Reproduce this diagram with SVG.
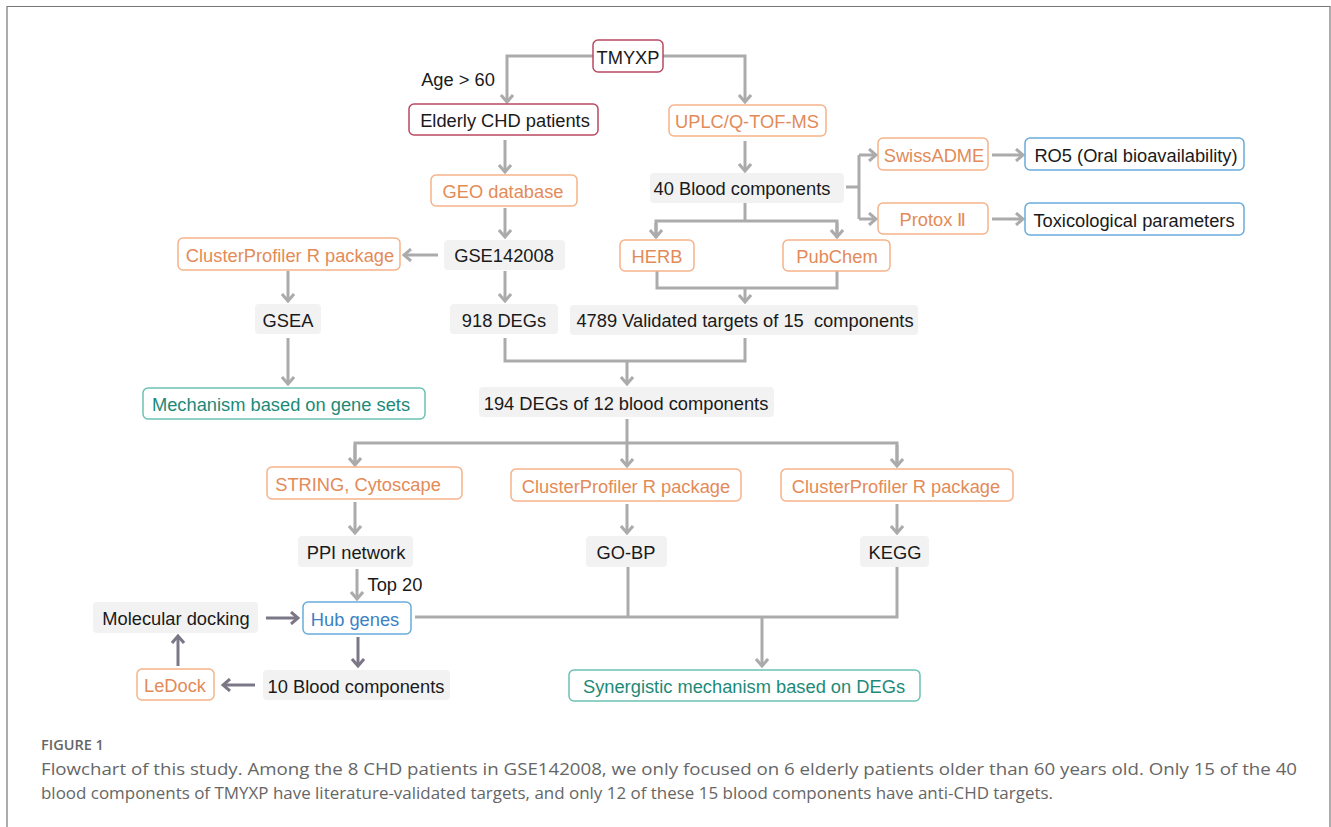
<svg xmlns="http://www.w3.org/2000/svg" width="1331" height="827" viewBox="0 0 1331 827">
<style>
.t{font-family:"Liberation Sans",Arial,sans-serif;font-size:18.3px;text-anchor:middle;dominant-baseline:central;fill:#1a1a1a}
.g{fill:#f2f2f2;stroke:none}
.o{fill:#fff;stroke:#f6b38a;stroke-width:1.5}
.ot{fill:#e38b58}
.r{fill:#fff;stroke:#b94a62;stroke-width:1.5}
.b{fill:#fff;stroke:#68acd9;stroke-width:1.5}
.bt{fill:#3b82c4}
.te{fill:#fff;stroke:#6cc2b2;stroke-width:1.5}
.tt{fill:#1d8a78}
.c{fill:none;stroke:#ababab;stroke-width:3}
.d{fill:none;stroke:#7b7787;stroke-width:3}
.cap{font-family:"Open Sans","Liberation Sans",sans-serif;fill:#666}
</style>
<defs>
<marker id="a" viewBox="0 0 10 14" refX="8" refY="7" markerWidth="10" markerHeight="14" markerUnits="userSpaceOnUse" orient="auto">
<path d="M1,1 L8,7 L1,13" fill="none" stroke="#ababab" stroke-width="3"/>
</marker>
<marker id="ad" viewBox="0 0 10 14" refX="8" refY="7" markerWidth="10" markerHeight="14" markerUnits="userSpaceOnUse" orient="auto">
<path d="M1,1 L8,7 L1,13" fill="none" stroke="#7b7787" stroke-width="3"/>
</marker>
</defs>
<rect width="1331" height="827" fill="#fff"/>
<path d="M7,827 V6.5 H1330 V827" fill="none" stroke="#777" stroke-width="1.2"/>

<g id="connectors">
<path class="c" d="M593,56 H507 V102" marker-end="url(#a)"/>
<path class="c" d="M663,56 H745 V102" marker-end="url(#a)"/>
<path class="c" d="M505,140 V172" marker-end="url(#a)"/>
<path class="c" d="M745,141 V171" marker-end="url(#a)"/>
<path class="c" d="M846,187 H859"/>
<path class="c" d="M859,155 V219"/>
<path class="c" d="M859,155 H876" marker-end="url(#a)"/>
<path class="c" d="M859,219 H876" marker-end="url(#a)"/>
<path class="c" d="M992,155 H1023" marker-end="url(#a)"/>
<path class="c" d="M992,219 H1023" marker-end="url(#a)"/>
<path class="c" d="M745,203 V221"/>
<path class="c" d="M656,238 V221 H837 V238"/>
<path class="c" d="M656,223 V237" marker-end="url(#a)"/>
<path class="c" d="M837,223 V237" marker-end="url(#a)"/>
<path class="c" d="M657,271 V288 H837 V271"/>
<path class="c" d="M745,288 V302" marker-end="url(#a)"/>
<path class="c" d="M505,208 V237" marker-end="url(#a)"/>
<path class="c" d="M438,255 H404" marker-end="url(#a)"/>
<path class="c" d="M288,271 V301" marker-end="url(#a)"/>
<path class="c" d="M288,338 V384" marker-end="url(#a)"/>
<path class="c" d="M505,271 V301" marker-end="url(#a)"/>
<path class="c" d="M505,338 V361 H745 V338"/>
<path class="c" d="M627,361 V384" marker-end="url(#a)"/>
<path class="c" d="M627,419 V443"/>
<path class="c" d="M355,465 V443 H897 V465"/>
<path class="c" d="M355,445 V465" marker-end="url(#a)"/>
<path class="c" d="M627,443 V466" marker-end="url(#a)"/>
<path class="c" d="M897,445 V466" marker-end="url(#a)"/>
<path class="c" d="M355,502 V533" marker-end="url(#a)"/>
<path class="c" d="M627,504 V533" marker-end="url(#a)"/>
<path class="c" d="M897,504 V533" marker-end="url(#a)"/>
<path class="c" d="M357,569 V599" marker-end="url(#a)"/>
<path class="c" d="M415,617 H897 V567"/>
<path class="c" d="M628,567 V617"/>
<path class="c" d="M762,617 V666" marker-end="url(#a)"/>
<path class="d" d="M266,618 H298" marker-end="url(#ad)"/>
<path class="d" d="M358,637 V666" marker-end="url(#ad)"/>
<path class="d" d="M255,685 H223" marker-end="url(#ad)"/>
<path class="d" d="M178,666 V636" marker-end="url(#ad)"/>
</g>

<g id="labels">
<text class="t" x="458" y="79">Age &gt; 60</text>
<text class="t" x="395" y="584">Top 20</text>
</g>

<g id="n-tmyxp"><rect class="r" x="593" y="40" width="70" height="32" rx="5"/><text class="t" x="628" y="57">TMYXP</text></g>
<g id="n-elderly"><rect class="r" x="409" y="104" width="189" height="31" rx="5"/><text class="t" x="505" y="120">Elderly CHD patients</text></g>
<g id="n-uplc"><rect class="o" x="669" y="105" width="157" height="31" rx="5"/><text class="t ot" x="747" y="121">UPLC/Q-TOF-MS</text></g>
<g id="n-geo"><rect class="o" x="431" y="175" width="146" height="31" rx="5"/><text class="t ot" x="503" y="191">GEO database</text></g>
<g id="n-40blood"><rect class="g" x="650" y="173" width="194" height="30" rx="4"/><text class="t" x="742" y="188">40 Blood components</text></g>
<g id="n-swissadme"><rect class="o" x="878" y="138" width="110" height="32" rx="5"/><text class="t ot" x="934" y="155">SwissADME</text></g>
<g id="n-protox"><rect class="o" x="878" y="203" width="110" height="31" rx="5"/><text class="t ot" x="933" y="219">Protox Ⅱ</text></g>
<g id="n-ro5"><rect class="b" x="1025" y="138" width="219" height="32" rx="5"/><text class="t" x="1136" y="155">RO5 (Oral bioavailability)</text></g>
<g id="n-tox"><rect class="b" x="1025" y="203" width="219" height="32" rx="5"/><text class="t" x="1134" y="220">Toxicological parameters</text></g>
<g id="n-herb"><rect class="o" x="620" y="240" width="74" height="31" rx="5"/><text class="t ot" x="657" y="256">HERB</text></g>
<g id="n-pubchem"><rect class="o" x="783" y="240" width="107" height="31" rx="5"/><text class="t ot" x="837" y="256">PubChem</text></g>
<g id="n-4789"><rect class="g" x="570" y="305" width="348" height="30" rx="4"/><text class="t" x="745" y="320" xml:space="preserve">4789 Validated targets of 15  components</text></g>
<g id="n-gse"><rect class="g" x="444" y="240" width="121" height="30" rx="4"/><text class="t" x="504" y="255">GSE142008</text></g>
<g id="n-cp1"><rect class="o" x="178" y="238" width="222" height="32" rx="5"/><text class="t ot" x="290" y="255">ClusterProfiler R package</text></g>
<g id="n-gsea"><rect class="g" x="255" y="304" width="66" height="30" rx="4"/><text class="t" x="288" y="320">GSEA</text></g>
<g id="n-mech"><rect class="te" x="143" y="388" width="282" height="31" rx="5"/><text class="t tt" x="281" y="404">Mechanism based on gene sets</text></g>
<g id="n-918"><rect class="g" x="450" y="304" width="108" height="30" rx="4"/><text class="t" x="504" y="320">918 DEGs</text></g>
<g id="n-194"><rect class="g" x="479" y="387" width="295" height="30" rx="4"/><text class="t" x="626" y="403">194 DEGs of 12 blood components</text></g>
<g id="n-string"><rect class="o" x="267" y="467" width="195" height="32" rx="5"/><text class="t ot" x="358" y="484">STRING, Cytoscape</text></g>
<g id="n-cp2"><rect class="o" x="511" y="469" width="230" height="32" rx="5"/><text class="t ot" x="626" y="486">ClusterProfiler R package</text></g>
<g id="n-cp3"><rect class="o" x="781" y="469" width="232" height="32" rx="5"/><text class="t ot" x="896" y="486">ClusterProfiler R package</text></g>
<g id="n-ppi"><rect class="g" x="298" y="536" width="115" height="31" rx="4"/><text class="t" x="356" y="552">PPI network</text></g>
<g id="n-gobp"><rect class="g" x="586" y="536" width="81" height="31" rx="4"/><text class="t" x="626" y="552">GO-BP</text></g>
<g id="n-kegg"><rect class="g" x="860" y="536" width="69" height="31" rx="4"/><text class="t" x="895" y="552">KEGG</text></g>
<g id="n-hub"><rect class="b" x="303" y="602" width="108" height="32" rx="5"/><text class="t bt" x="355" y="619">Hub genes</text></g>
<g id="n-molecular"><rect class="g" x="93" y="602" width="165" height="31" rx="4"/><text class="t" x="176" y="618">Molecular docking</text></g>
<g id="n-10blood"><rect class="g" x="263" y="670" width="187" height="30" rx="4"/><text class="t" x="356" y="686">10 Blood components</text></g>
<g id="n-ledock"><rect class="o" x="137" y="669" width="77" height="31" rx="5"/><text class="t ot" x="175" y="685">LeDock</text></g>
<g id="n-syn"><rect class="te" x="569" y="670" width="351" height="31" rx="5"/><text class="t tt" x="744" y="686">Synergistic mechanism based on DEGs</text></g>

<g id="caption">
<text class="cap" x="41" y="750" font-size="14.5" font-weight="600" fill="#555">FIGURE 1</text>
<text class="cap" x="41" y="775" font-size="16.5" textLength="1256" lengthAdjust="spacingAndGlyphs">Flowchart of this study. Among the 8 CHD patients in GSE142008, we only focused on 6 elderly patients older than 60 years old. Only 15 of the 40</text>
<text class="cap" x="41" y="799" font-size="16.5" textLength="1012" lengthAdjust="spacingAndGlyphs">blood components of TMYXP have literature-validated targets, and only 12 of these 15 blood components have anti-CHD targets.</text>
</g>
</svg>
